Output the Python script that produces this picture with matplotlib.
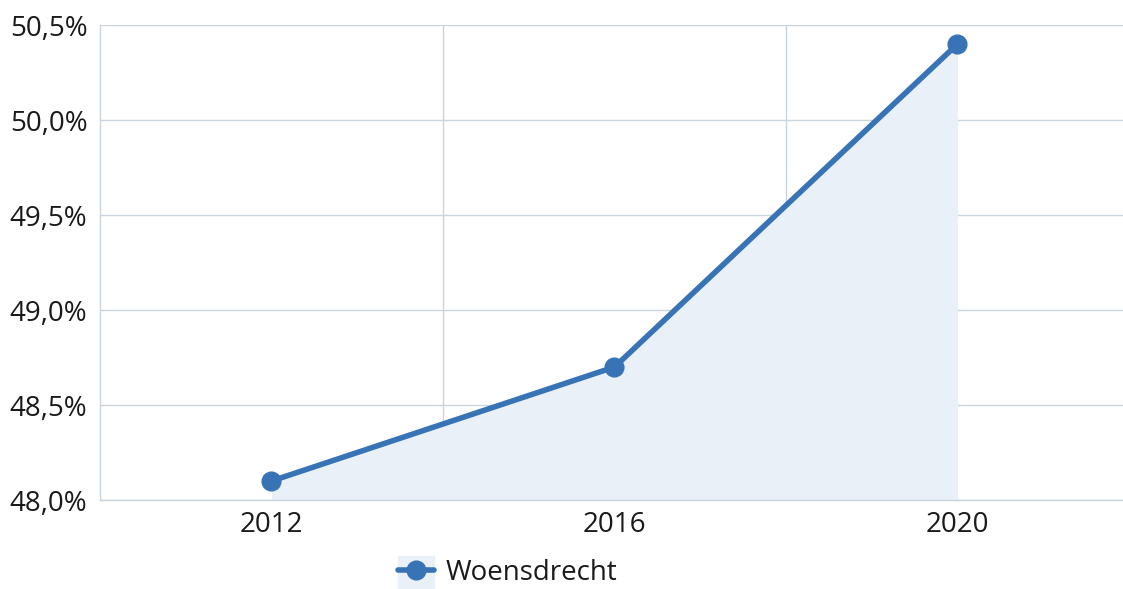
import matplotlib
matplotlib.use("Agg")
import matplotlib.pyplot as plt
from matplotlib.ticker import FuncFormatter
from matplotlib.patches import Rectangle

plt.rcParams['font.family'] = ['Open Sans', 'DejaVu Sans']

years = ["2012", "2016", "2020"]
values = [48.1, 48.7, 50.4]
series_name = "Woensdrecht"
yticks = [48.0, 48.5, 49.0, 49.5, 50.0, 50.5]

line_color = "#3874b5"
fill_color = "#e9f0f8"
grid_color = "#c9d4df"

fig = plt.figure(figsize=(11.23, 5.89), dpi=100)
ax = fig.add_axes([100/1123, (589-500)/589, 1029/1123, 475/589])

x = list(range(len(years)))
ax.fill_between(x, values, 48.0, color=fill_color, zorder=1, linewidth=0)
ax.plot(x, values, color=line_color, linewidth=4.0, marker='o', markersize=13.5,
        label=series_name, zorder=3, solid_capstyle='round', clip_on=False)

ax.set_xlim(-0.5, len(years) - 0.5)
ax.set_ylim(48.0, 50.5)
ax.set_yticks(yticks)
ax.yaxis.set_major_formatter(FuncFormatter(lambda v, p: f"{v:.1f}%".replace('.', ',')))
ax.set_xticks(x)
ax.set_xticklabels(years)
ax.set_xticks([0.5, 1.5], minor=True)

ax.grid(axis='y', which='major', color=grid_color, linewidth=1, zorder=0)
ax.grid(axis='x', which='minor', color=grid_color, linewidth=1, zorder=0)
ax.set_axisbelow(True)

for s in ['top', 'right']:
    ax.spines[s].set_visible(False)
for s in ['left', 'bottom']:
    ax.spines[s].set_color(grid_color)
    ax.spines[s].set_linewidth(1)

ax.tick_params(axis='both', which='both', length=0, labelsize=20, colors='#1a1a1a')
ax.tick_params(axis='y', pad=9)
ax.tick_params(axis='x', pad=8)

# light background behind legend marker
fig.patches.append(Rectangle((398/1123, 0), 36/1123, 33/589,
                             transform=fig.transFigure, color=fill_color, zorder=0))
leg = fig.legend(loc='center left', bbox_to_anchor=(398/1123, (589-573)/589),
                 bbox_transform=fig.transFigure, frameon=False, fontsize=20,
                 handlelength=1.3, handletextpad=0.4, borderpad=0, borderaxespad=0,
                 labelcolor='#1a1a1a')

fig.savefig("out.png", dpi=100)
